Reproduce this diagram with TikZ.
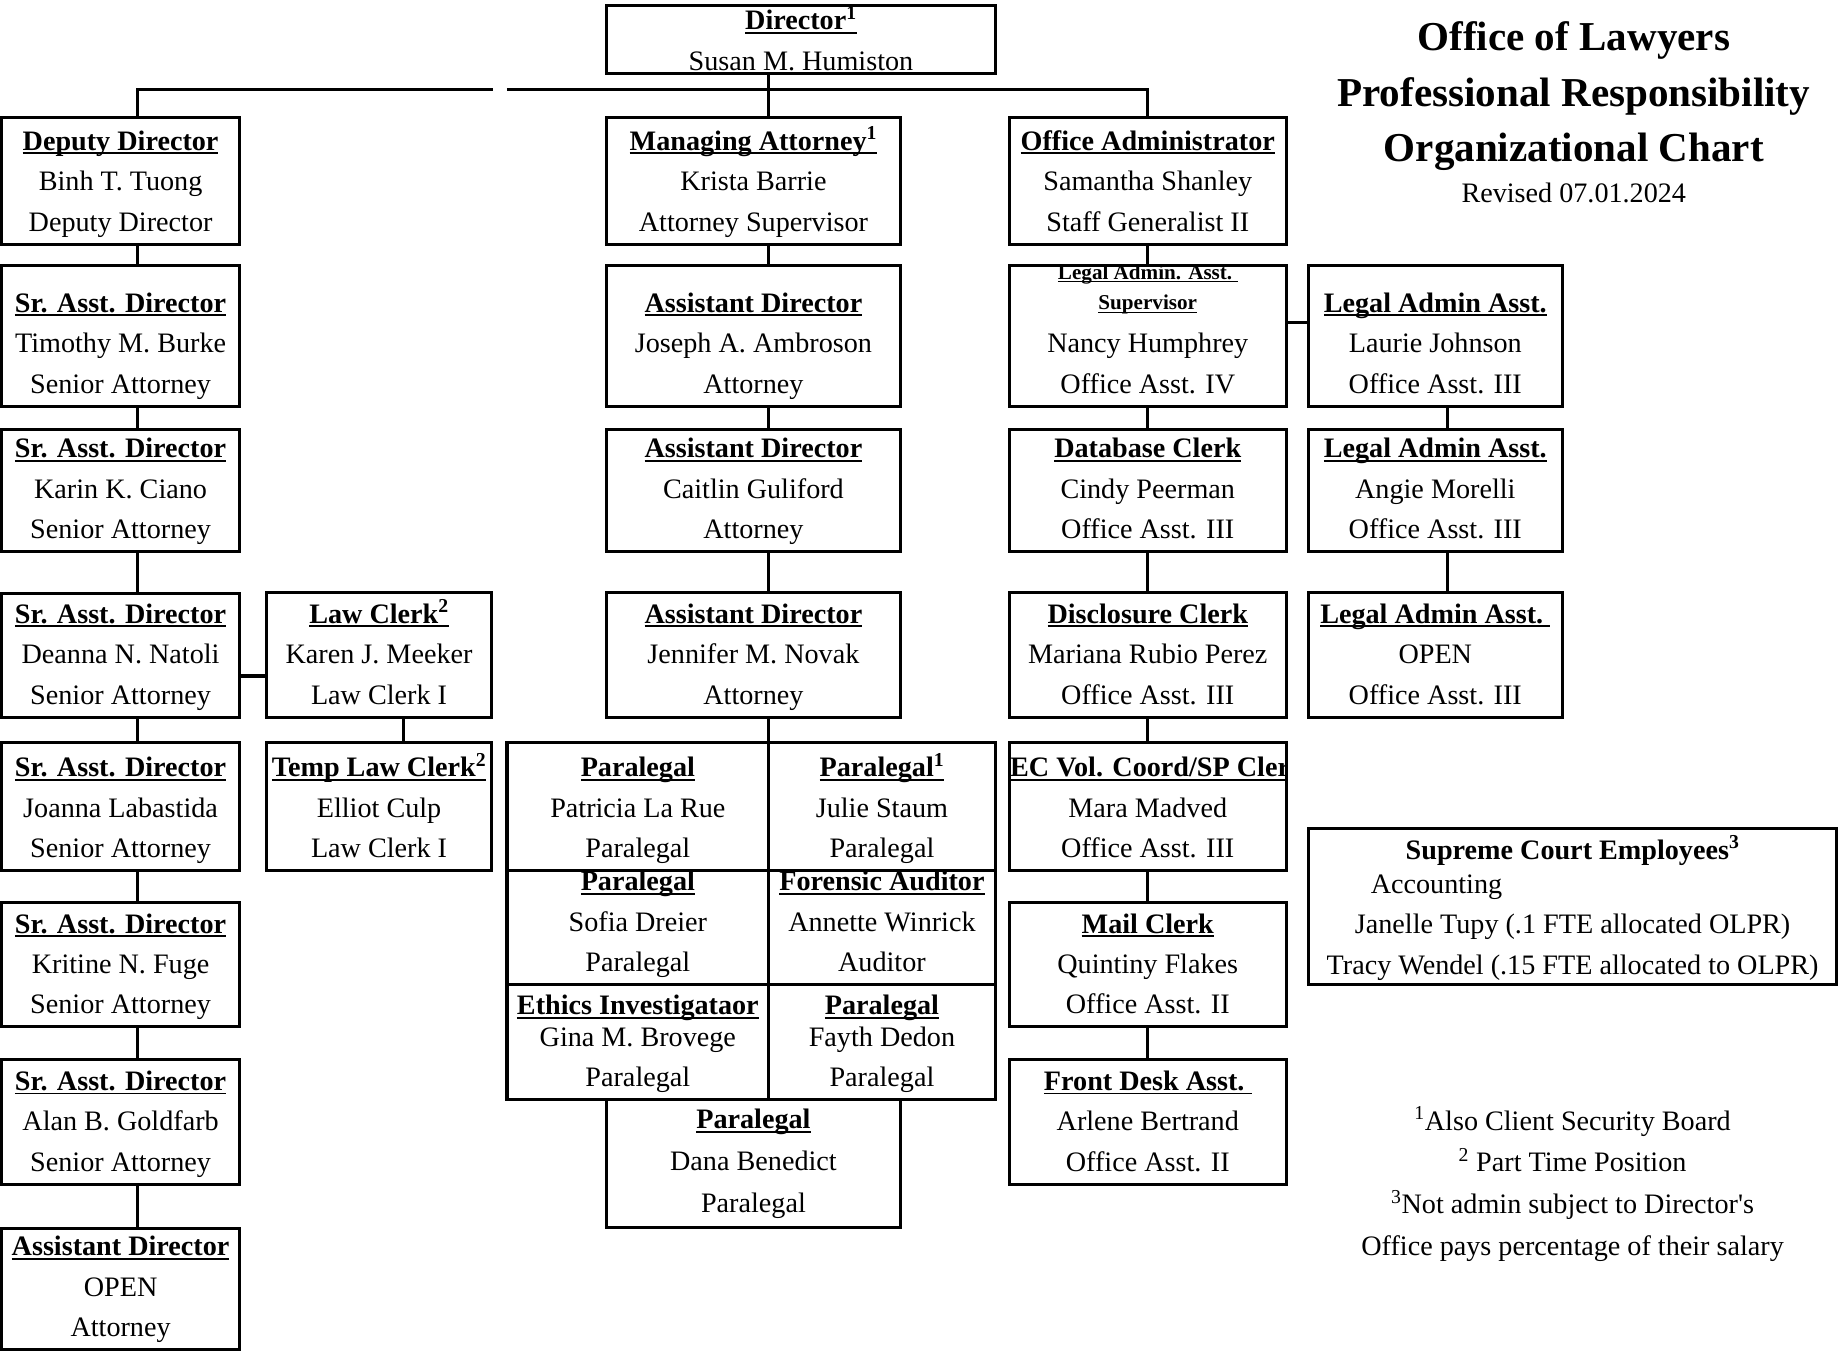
\documentclass[tikz,border=0pt]{standalone}
\usepackage{fontspec}
\setmainfont{Liberation Serif}
\newcommand\boxfont{\fontsize{24}{34.5}\selectfont}
\newcommand\ttl[1]{\setbox0=\hbox{\bfseries #1}\leavevmode\rlap{\rule[-0.15em]{\wd0}{0.07em}}\box0}
\newcommand\supnum[1]{\textsuperscript{#1}}
\newcommand\obox[7][11pt]{%
  \node[obox] (#2) at ({(#3+#5)/2},{(#4+#6)/2})
  {\parbox[b][\dimexpr#6pt-#4pt\relax][b]{\dimexpr#5pt-#3pt\relax}{\boxfont\centering #7\par\vskip\dimexpr#1-\prevdepth\relax}};}
\begin{document}
\begin{tikzpicture}[x=1pt,y=-1pt,
  obox/.style={draw, line width=2.6pt, inner sep=0pt, outer sep=0pt},
  boxline/.style={line width=2.6pt},
  conn/.style={line width=2.6pt}]
\useasboundingbox (0,0) rectangle (1567,1155);
% title
\node[font={\fontsize{35}{47}\selectfont\bfseries}, align=center] (title) at (1341,82) {Office of Lawyers\\Professional Responsibility\\Organizational Chart};
\node[font={\fontsize{24}{30}\selectfont}] (rev) at (1341,164) {Revised 07.01.2024};
% director
\obox[3pt]{dir}{517}{5}{848}{63}{\ttl{Director\supnum{1}}\\Susan M. Humiston}
% left column
\obox{dep}{1.5}{100}{204}{208}{\ttl{Deputy Director}\\Binh T. Tuong\\Deputy Director}
\obox{sr1}{1.5}{226}{204}{346}{\ttl{Sr. Asst. Director}\\Timothy M. Burke\\Senior Attorney}
\obox{sr2}{1.5}{366}{204}{470}{\ttl{Sr. Asst. Director}\\Karin K. Ciano\\Senior Attorney}
\obox{sr3}{1.5}{506}{204}{611}{\ttl{Sr. Asst. Director}\\Deanna N. Natoli\\Senior Attorney}
\obox{sr4}{1.5}{633}{204}{742}{\ttl{Sr. Asst. Director}\\Joanna Labastida\\Senior Attorney}
\obox{sr5}{1.5}{769}{204}{875}{\ttl{Sr. Asst. Director}\\Kritine N. Fuge\\Senior Attorney}
\obox{sr6}{1.5}{903}{204}{1009}{\ttl{Sr. Asst. Director}\\Alan B. Goldfarb\\Senior Attorney}
\obox{opd}{1.5}{1047}{204}{1150}{\ttl{Assistant Director}\\OPEN\\Attorney}
\obox{law}{227}{505}{419}{611}{\ttl{Law Clerk\supnum{2}}\\Karen J. Meeker\\Law Clerk I}
\obox{tlaw}{227}{633}{419}{742}{\ttl{Temp Law Clerk\supnum{2}}\\Elliot Culp\\Law Clerk I}
% center column
\obox{mng}{517}{100}{767}{208}{\ttl{Managing Attorney\supnum{1}}\\Krista Barrie\\Attorney Supervisor}
\obox{ad1}{517}{226}{767}{346}{\ttl{Assistant Director}\\Joseph A. Ambroson\\Attorney}
\obox{ad2}{517}{366}{767}{470}{\ttl{Assistant Director}\\Caitlin Guliford\\Attorney}
\obox{ad3}{517}{505}{767}{611}{\ttl{Assistant Director}\\Jennifer M. Novak\\Attorney}
\obox{pl1}{432}{633}{655}{742}{\ttl{Paralegal}\\Patricia La Rue\\Paralegal}
\obox{pl2}{655}{633}{848}{742}{\ttl{Paralegal\supnum{1}}\\Julie Staum\\Paralegal}
\obox{pl3}{432}{742}{655}{839}{\ttl{Paralegal}\\Sofia Dreier\\Paralegal}
\obox{aud}{655}{742}{848}{839}{\ttl{Forensic Auditor}\\Annette Winrick\\Auditor}
\obox{eth}{432}{839}{655}{937}{\ttl{Ethics Investigataor}\\[-7.5pt]Gina M. Brovege\\Paralegal}
\obox{pl4}{655}{839}{848}{937}{\ttl{Paralegal}\\[-7.5pt]Fayth Dedon\\Paralegal}
\obox[13pt]{pl5}{517}{937}{767}{1046}{\ttl{Paralegal}\\[1pt]Dana Benedict\\[1pt]Paralegal}
% right column
\obox{adm}{860}{100}{1096}{208}{\ttl{Office Administrator}\\Samantha Shanley\\Staff Generalist II}
\obox{sup}{860}{226}{1096}{346}{{\fontsize{18}{18}\selectfont\ttl{Legal Admin. Asst.\ }}\\[-8.5pt]{\fontsize{18}{18}\selectfont\ttl{Supervisor}}\\[2pt]Nancy Humphrey\\Office Asst. IV}
\obox{dbc}{860}{366}{1096}{470}{\ttl{Database Clerk}\\Cindy Peerman\\Office Asst. III}
\obox{dsc}{860}{505}{1096}{611}{\ttl{Disclosure Clerk}\\Mariana Rubio Perez\\Office Asst. III}
\begin{scope}
\clip (860,633) rectangle (1096,742);
\obox{dec}{860}{633}{1096}{742}{\makebox[0pt]{\ttl{DEC Vol. Coord/SP Clerk}}\\Mara Madved\\Office Asst. III}
\end{scope}
\draw[boxline] (dec.south west) rectangle (dec.north east);
\obox{mail}{860}{769}{1096}{875}{\ttl{Mail Clerk}\\Quintiny Flakes\\Office Asst. II}
\obox{fda}{860}{903}{1096}{1009}{\ttl{Front Desk Asst.\ }\\Arlene Bertrand\\Office Asst. II}
% far right column
\obox{la1}{1115}{226}{1331}{346}{\ttl{Legal Admin Asst.}\\Laurie Johnson\\Office Asst. III}
\obox{la2}{1115}{366}{1331}{470}{\ttl{Legal Admin Asst.}\\Angie Morelli\\Office Asst. III}
\obox{la3}{1115}{505}{1331}{611}{\ttl{Legal Admin Asst.\ }\\OPEN\\Office Asst. III}
\obox[9pt]{sce}{1115}{706}{1565}{839}{\textbf{Supreme Court Employees\supnum{3}}\\[-5.5pt]\makebox[344pt][l]{Accounting}\\Janelle Tupy (.1 FTE allocated OLPR)\\Tracy Wendel (.15 FTE allocated to OLPR)}
% footnotes
\node[font={\fontsize{24}{35.7}\selectfont}, align=center] (notes) at (1340,1009) {\supnum{1}Also Client Security Board\\\supnum{2} Part Time Position\\\supnum{3}Not admin subject to Director\textquotesingle s\\Office pays percentage of their salary};
% connector coordinates
\coordinate (lcol) at (117,0);
\coordinate (ccol) at (655,0);
\coordinate (rcol) at (978,0);
\coordinate (frcol) at (1233,0);
\coordinate (lawx) at (344,0);
\coordinate (bus) at (0,76);
\coordinate (gapL) at (420,76);
\coordinate (gapR) at (432,76);
\coordinate (lawy) at (0,576);
\coordinate (supy) at (0,275);
% connectors
\draw[conn] (dep.north -| lcol) -- (lcol |- bus) -- (gapL);
\draw[conn] (gapR) -- (rcol |- bus) -- (adm.north -| rcol);
\draw[conn] (dir.south -| ccol) -- (mng.north -| ccol);
\foreach \a/\b in {dep/sr1,sr1/sr2,sr2/sr3,sr3/sr4,sr4/sr5,sr5/sr6,sr6/opd}
  \draw[conn] (\a.south -| lcol) -- (\b.north -| lcol);
\foreach \a/\b in {mng/ad1,ad1/ad2,ad2/ad3,ad3/pl2}
  \draw[conn] (\a.south -| ccol) -- (\b.north -| ccol);
\foreach \a/\b in {adm/sup,sup/dbc,dbc/dsc,dsc/dec,dec/mail,mail/fda}
  \draw[conn] (\a.south -| rcol) -- (\b.north -| rcol);
\foreach \a/\b in {la1/la2,la2/la3}
  \draw[conn] (\a.south -| frcol) -- (\b.north -| frcol);
\draw[conn] (sr3.east |- lawy) -- (law.west |- lawy);
\draw[conn] (law.south -| lawx) -- (tlaw.north -| lawx);
\draw[conn] (sup.east |- supy) -- (la1.west |- supy);
\end{tikzpicture}
\end{document}
